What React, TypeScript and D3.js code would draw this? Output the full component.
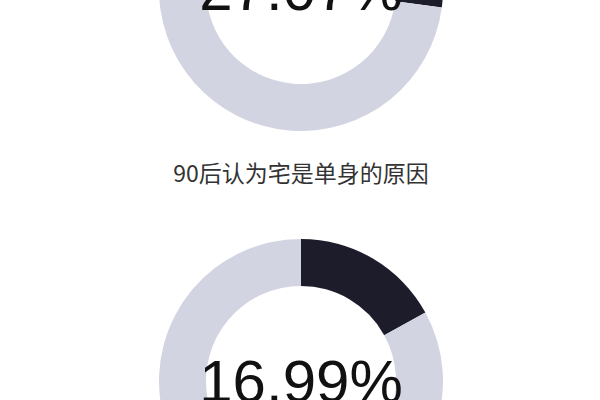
import {useEffect, useRef} from "react";
import * as d3 from 'd3'

// values shown in the two rings (percent)
const percentages = [27.07, 16.99]
// caption above each ring (first one is off the top of the picture)
const captions = ["", "90后认为宅是单身的原因"]

const W = 600
const H = 400
const CX = 301
const FIRST_CY = -11
const STEP = 392
const OUTER = 142
const INNER = 95

const App = () => {
    const svgRef = useRef<SVGSVGElement>(null)

    useEffect(() => {
        const svg = d3.select(svgRef.current)
        svg.selectAll("*").remove()

        svg.append("rect").attr("width", W).attr("height", H).attr("fill", "#fff")

        const pie = d3.pie<number>().sort(null).value(d => d)
        const arc = d3.arc<d3.PieArcDatum<number>>().innerRadius(INNER).outerRadius(OUTER)
        const colors = ["#1d1c2a", "#d3d4e2"]

        percentages.forEach((p, i) => {
            const cy = FIRST_CY + i * STEP
            const g = svg.append("g").attr("transform", `translate(${CX},${cy})`)

            g.selectAll("path")
                .data(pie([p, 100 - p]))
                .join("path")
                .attr("d", arc)
                .attr("fill", (d, j) => colors[j])

            g.append("text")
                .attr("text-anchor", "middle")
                .attr("dominant-baseline", "central")
                .attr("font-family", "'Liberation Sans', Arial, sans-serif")
                .attr("font-size", 60)
                .attr("fill", "#111")
                .text(d3.format(".2f")(p) + "%")

            if (captions[i]) {
                svg.append("text")
                    .attr("x", CX)
                    .attr("y", cy - 209)
                    .attr("text-anchor", "middle")
                    .attr("dominant-baseline", "central")
                    .attr("font-family", "'Noto Sans CJK SC', sans-serif")
                    .attr("font-size", 23)
                    .attr("fill", "#333")
                    .text(captions[i])
            }
        })
    }, [])

    return (
        <svg ref={svgRef} width={W} height={H}
             style={{position: "absolute", left: 0, top: 0, display: "block"}}/>
    )
}

export default App
